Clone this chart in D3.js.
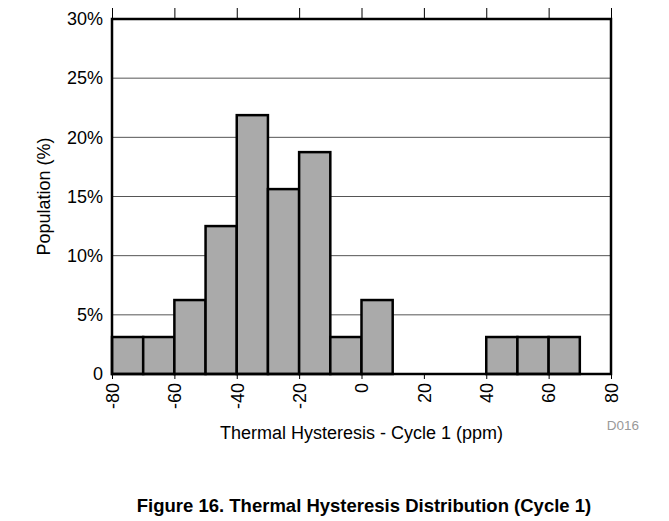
<!DOCTYPE html>
<html>
<head>
<meta charset="utf-8">
<script src="https://cdn.jsdelivr.net/npm/d3@7"></script>
<style>
  body { margin: 0; background: #fff; }
  text { font-family: "Liberation Sans", Arial, sans-serif; }
</style>
</head>
<body>
<svg width="669" height="521"></svg>
<script>
// histogram bins (ppm) and population share (%)
var binStart = [-80, -70, -60, -50, -40, -30, -20, -10, 0, 40, 50, 60];
var population = [3.125, 3.125, 6.25, 12.5, 21.875, 15.625, 18.75, 3.125, 6.25, 3.125, 3.125, 3.125];
var binWidth = 10;
var xTicks = [-80, -60, -40, -20, 0, 20, 40, 60, 80];
var yTicks = [0, 5, 10, 15, 20, 25, 30];

var svg = d3.select("svg");
var plot = { left: 112, right: 611, top: 19, bottom: 374 };

var x = d3.scaleLinear().domain([-80, 80]).range([plot.left, plot.right]);
var y = d3.scaleLinear().domain([0, 30]).range([plot.bottom, plot.top]);

// grid lines
svg.append("g")
  .selectAll("line")
  .data(yTicks.slice(1, -1))
  .enter().append("line")
    .attr("x1", plot.left).attr("x2", plot.right)
    .attr("y1", function(d) { return y(d); })
    .attr("y2", function(d) { return y(d); })
    .attr("stroke", "#555")
    .attr("stroke-width", 1);

// bars
svg.append("g")
  .selectAll("rect")
  .data(binStart)
  .enter().append("rect")
    .attr("x", function(d) { return x(d); })
    .attr("width", function(d) { return x(d + binWidth) - x(d); })
    .attr("y", function(d, i) { return y(population[i]); })
    .attr("height", function(d, i) { return y(0) - y(population[i]); })
    .attr("fill", "#aaaaaa")
    .attr("stroke", "#000")
    .attr("stroke-width", 2.5);

// plot frame
svg.append("rect")
  .attr("x", plot.left).attr("y", plot.top)
  .attr("width", plot.right - plot.left).attr("height", plot.bottom - plot.top)
  .attr("fill", "none")
  .attr("stroke", "#000")
  .attr("stroke-width", 2.5);

// top ticks
svg.append("g")
  .attr("transform", "translate(0," + plot.top + ")")
  .call(d3.axisTop(x).tickValues(xTicks).tickSize(11).tickFormat(""))
  .call(function(g) { g.select(".domain").remove(); })
  .selectAll("line").attr("stroke", "#000").attr("stroke-width", 1);

// bottom axis, rotated labels
var xAxis = svg.append("g")
  .attr("transform", "translate(0," + plot.bottom + ")")
  .call(d3.axisBottom(x).tickValues(xTicks).tickSize(5).tickFormat(function(d) { return String(d); }));
xAxis.select(".domain").remove();
xAxis.selectAll("line").attr("stroke", "#000");
xAxis.selectAll("text")
  .attr("transform", "rotate(-90)")
  .attr("x", -9).attr("y", 0).attr("dy", "0.35em")
  .attr("text-anchor", "end")
  .attr("fill", "#000")
  .style("font-size", "18px")
  .style("font-family", "'Liberation Sans', Arial, sans-serif");

// left axis labels
var yAxis = svg.append("g")
  .attr("transform", "translate(" + plot.left + ",0)")
  .call(d3.axisLeft(y).tickValues(yTicks).tickSize(0).tickPadding(9)
    .tickFormat(function(d) { return d ? d + "%" : "0"; }));
yAxis.select(".domain").remove();
yAxis.selectAll("text")
  .attr("fill", "#000")
  .style("font-size", "18px")
  .style("font-family", "'Liberation Sans', Arial, sans-serif");

// titles
svg.append("text")
  .attr("transform", "translate(50," + ((plot.top + plot.bottom) / 2) + ") rotate(-90)")
  .attr("text-anchor", "middle")
  .style("font-size", "18px")
  .text("Population (%)");

svg.append("text")
  .attr("x", (plot.left + plot.right) / 2).attr("y", 439)
  .attr("text-anchor", "middle")
  .style("font-size", "18px")
  .text("Thermal Hysteresis - Cycle 1 (ppm)");

svg.append("text")
  .attr("x", 639).attr("y", 430)
  .attr("text-anchor", "end")
  .attr("fill", "#999")
  .style("font-size", "13.5px")
  .text("D016");

svg.append("text")
  .attr("x", 364).attr("y", 512)
  .attr("text-anchor", "middle")
  .style("font-size", "18.5px")
  .style("font-weight", "bold")
  .text("Figure 16. Thermal Hysteresis Distribution (Cycle 1)");
</script>
</body>
</html>
